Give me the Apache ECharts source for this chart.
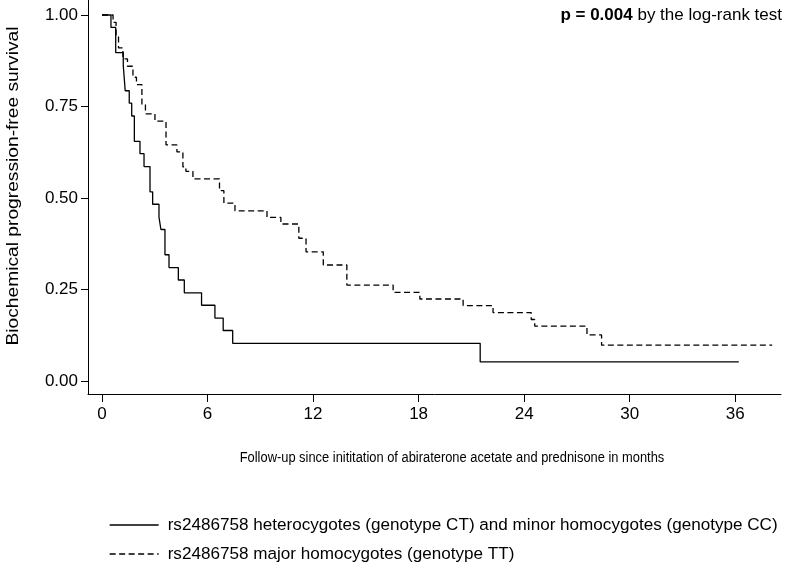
<!DOCTYPE html>
<html>
<head>
<meta charset="utf-8">
<script src="https://cdn.jsdelivr.net/npm/echarts@6/dist/echarts.min.js"></script>
<style>
html,body{margin:0;padding:0;background:#fff;}
#c{width:792px;height:563px;}
</style>
</head>
<body>
<div id="c"></div>
<script>
// ---- data ----
const seriesNames = [
  'rs2486758 heterocygotes (genotype CT) and minor homocygotes (genotype CC)',
  'rs2486758 major homocygotes (genotype TT)'
];
const solidTimes = [0, 0.51, 0.78, 1.21, 1.32, 1.55, 1.69, 1.84, 2.16, 2.39, 2.73, 2.88, 3.24, 3.35, 3.58, 3.81, 4.34, 4.68, 5.66, 6.42, 6.89, 7.43, 21.5, 36.2];
const solidSurv  = [1, 0.966, 0.897, 0.862, 0.793, 0.759, 0.724, 0.655, 0.621, 0.586, 0.517, 0.483, 0.448, 0.414, 0.345, 0.310, 0.276, 0.241, 0.207, 0.172, 0.138, 0.103, 0.052, 0.052];
const dashedTimes = [0, 0.63, 0.8, 0.94, 1.19, 1.45, 1.76, 1.96, 2.27, 2.47, 3.01, 3.64, 4.26, 4.6, 4.77, 5.17, 6.68, 6.93, 7.56, 9.38, 10.17, 11.19, 11.6, 12.58, 13.92, 16.55, 18.07, 20.53, 22.23, 24.4, 24.6, 27.57, 28.4, 38.1];
const dashedSurv  = [1, 0.98, 0.94, 0.91, 0.88, 0.86, 0.83, 0.81, 0.755, 0.73, 0.71, 0.645, 0.626, 0.585, 0.573, 0.552, 0.52, 0.486, 0.465, 0.447, 0.429, 0.39, 0.353, 0.317, 0.262, 0.242, 0.224, 0.206, 0.187, 0.168, 0.150, 0.126, 0.098, 0.098];
const xTicks = [0, 6, 12, 18, 24, 30, 36];
const yTicks = [0, 0.25, 0.5, 0.75, 1];
const yTitle = 'Biochemical progression-free survival';
const xTitle = 'Follow-up since inititation of abiraterone acetate and prednisone in months';

const FONT = '"Liberation Sans", Arial, Helvetica, sans-serif';
const toPairs = (t, s) => t.map((v, i) => [v, s[i]]);

const legendBase = {
  orient: 'horizontal', left: 104, itemWidth: 49, itemHeight: 14,
  itemStyle: {color: 'transparent', borderWidth: 0, opacity: 0},
  lineStyle: {width: 1.3},
  textStyle: {fontSize: 17.1, lineHeight: 18, color: '#000', fontFamily: FONT, padding: [0, 0, 0, 4]}
};

const chart = echarts.init(document.getElementById('c'), null, {renderer: 'canvas'});
chart.setOption({
  animation: false,
  backgroundColor: '#fff',
  textStyle: {fontFamily: FONT, color: '#000'},
  grid: {left: 88, right: 11, top: 0, bottom: 169, containLabel: false},
  xAxis: {
    type: 'value', min: -0.795, max: 38.6,
    axisLine: {show: true, onZero: false, lineStyle: {color: '#000', width: 1}},
    axisTick: {show: true, length: 8, customValues: xTicks, lineStyle: {color: '#000'}},
    axisLabel: {customValues: xTicks, margin: 12, fontSize: 17, color: '#000', fontFamily: FONT},
    splitLine: {show: false}
  },
  yAxis: {
    type: 'value', min: -0.0355, max: 1.041,
    axisLine: {show: true, onZero: false, lineStyle: {color: '#000', width: 1}},
    axisTick: {show: true, length: 7, customValues: yTicks, lineStyle: {color: '#000'}},
    axisLabel: {customValues: yTicks, margin: 10, fontSize: 17, color: '#000', fontFamily: FONT,
      formatter: v => v.toFixed(2)},
    splitLine: {show: false}
  },
  legend: [
    Object.assign({}, legendBase, {top: 511, data: [seriesNames[0]]}),
    Object.assign({}, legendBase, {top: 540, data: [seriesNames[1]]})
  ],
  series: [
    {name: seriesNames[0], type: 'line', step: 'end', symbol: 'none', showSymbol: false,
     lineStyle: {color: '#000', width: 1.3}, itemStyle: {color: '#000'},
     data: toPairs(solidTimes, solidSurv)},
    {name: seriesNames[1], type: 'line', step: 'end', symbol: 'none', showSymbol: false,
     lineStyle: {color: '#000', width: 1.3, type: [6, 3.5]}, itemStyle: {color: '#000'},
     data: toPairs(dashedTimes, dashedSurv)}
  ],
  graphic: [
    {type: 'text', x: 14, y: 186, rotation: Math.PI / 2, scaleX: 1.2,
     style: {text: yTitle, fontSize: 16, fontFamily: FONT, fill: '#000', align: 'center', verticalAlign: 'middle'}},
    {type: 'text', x: 452, y: 458, scaleX: 0.92,
     style: {text: xTitle, fontSize: 14, fontFamily: FONT, fill: '#000', align: 'center', verticalAlign: 'middle'}},
    {type: 'text', x: 782, y: 15,
     style: {text: '{b|p = 0.004} by the log-rank test', fontSize: 17, fontFamily: FONT, fill: '#000',
       align: 'right', verticalAlign: 'middle',
       rich: {b: {fontWeight: 'bold', fontSize: 17, fontFamily: FONT, fill: '#000'}}}}
  ]
});
</script>
</body>
</html>
